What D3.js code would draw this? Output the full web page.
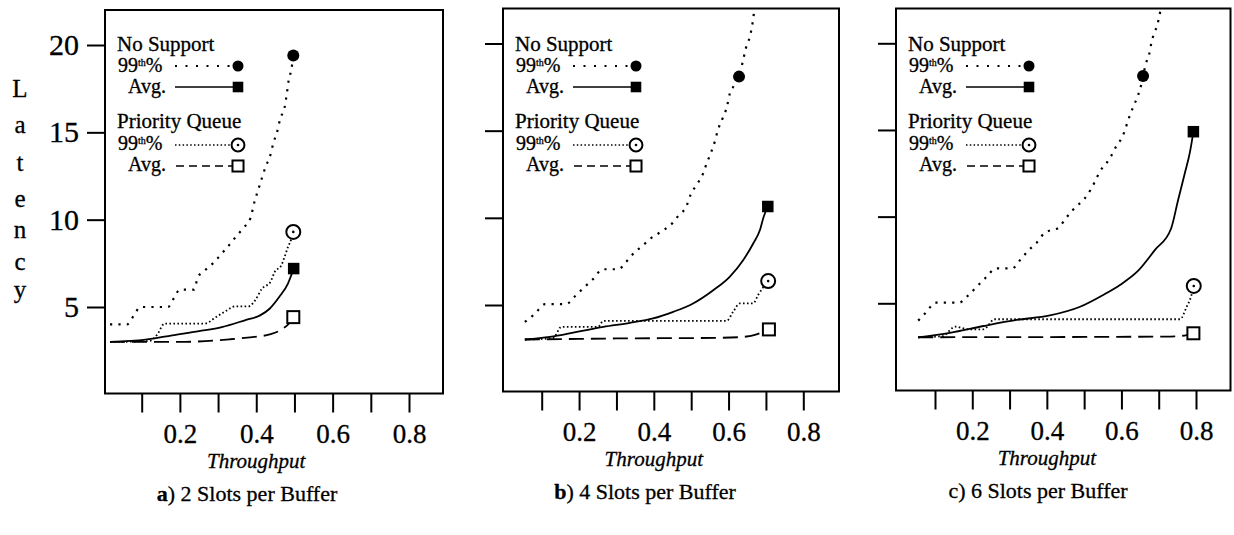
<!DOCTYPE html>
<html><head><meta charset="utf-8">
<script src="https://cdn.jsdelivr.net/npm/d3@7"></script>
<style>
html,body{margin:0;padding:0;background:#fff;}
svg{display:block;font-family:"Liberation Serif","Times New Roman",serif;}
svg text{fill:#000;stroke:#000;stroke-width:0.3px;}
</style></head><body>
<svg id="chart" width="1234" height="535"></svg>
<script>
// ---- data: [throughput, latency] ----
// a) 2 slots per buffer
const ns99A = [[0.017,4],[0.061,4],[0.083,4.65],[0.096,5],[0.169,5],[0.184,5.5],[0.2,6],[0.237,6],[0.247,6.7],[0.263,7.05],[0.289,7.55],[0.31,8.07],[0.33,8.57],[0.348,9.06],[0.367,9.54],[0.385,10.1],[0.395,11.0],[0.405,11.7],[0.415,12.4],[0.424,13.0],[0.437,13.7],[0.445,14.4],[0.455,15.05],[0.463,15.8],[0.474,16.4],[0.48,17.2],[0.485,18.0],[0.492,18.6],[0.497,19.4]];
const nsAvgA = [[0.017,3.0],[0.11,3.13],[0.18,3.38],[0.25,3.62],[0.31,3.85],[0.37,4.24],[0.41,4.52],[0.435,4.9],[0.46,5.57],[0.483,6.34],[0.498,7.2]];
const pq99A = [[0.017,3.0],[0.12,3.05],[0.14,3.4],[0.16,4.05],[0.265,4.05],[0.295,4.43],[0.32,4.77],[0.345,5.04],[0.38,5.04],[0.397,5.38],[0.415,6.05],[0.437,6.43],[0.448,7.0],[0.466,7.4],[0.474,7.86],[0.483,8.43],[0.492,8.9],[0.497,9.3]];
const pqAvgA = [[0.017,3.0],[0.2,3.0],[0.33,3.15],[0.39,3.28],[0.435,3.43],[0.47,3.76],[0.487,4.08],[0.497,4.42]];
const ns99MarkA = [0.497,19.4];

// b) 4 slots per buffer
const ns99B = [[0.055,4.03],[0.082,4.5],[0.109,5.05],[0.165,5.05],[0.189,5.5],[0.213,6.0],[0.238,6.5],[0.263,7.05],[0.305,7.05],[0.327,7.5],[0.35,8.05],[0.37,8.4],[0.39,8.8],[0.412,9.1],[0.43,9.35],[0.45,9.7],[0.465,10.1],[0.488,10.7],[0.498,11.3],[0.518,12.0],[0.532,12.55],[0.541,13.1],[0.554,13.8],[0.563,14.36],[0.572,15.07],[0.584,15.7],[0.596,16.4],[0.603,17.1],[0.615,17.6],[0.628,18.1],[0.639,19.05],[0.646,19.7],[0.657,20.4],[0.663,21.0],[0.672,22.5]];
const nsAvgB = [[0.055,3.02],[0.122,3.17],[0.194,3.46],[0.265,3.75],[0.336,3.98],[0.398,4.23],[0.452,4.61],[0.505,5.09],[0.559,5.85],[0.603,6.62],[0.639,7.57],[0.666,8.53],[0.684,9.3],[0.694,10.06],[0.705,10.65]];
const pq99B = [[0.055,3.02],[0.13,3.1],[0.153,3.75],[0.251,3.75],[0.265,4.09],[0.595,4.09],[0.612,4.6],[0.63,5.09],[0.666,5.09],[0.679,5.57],[0.697,6.14],[0.706,6.37]];
const pqAvgB = [[0.055,3.02],[0.3,3.08],[0.577,3.12],[0.639,3.17],[0.675,3.31],[0.697,3.5],[0.708,3.6]];
const ns99MarkB = [0.628,18.1];

// c) 6 slots per buffer
const ns99C = [[0.055,4.0],[0.078,4.52],[0.1,5.04],[0.165,5.04],[0.19,5.48],[0.214,6.0],[0.239,6.54],[0.263,7.02],[0.307,7.02],[0.33,7.54],[0.35,8.04],[0.373,8.5],[0.393,9.04],[0.413,9.23],[0.43,9.33],[0.449,9.85],[0.47,10.39],[0.485,10.7],[0.502,11.06],[0.517,11.54],[0.529,12.02],[0.542,12.6],[0.56,13.08],[0.574,13.56],[0.587,14.1],[0.603,14.62],[0.614,15.29],[0.623,15.87],[0.634,16.45],[0.645,17.02],[0.654,17.7],[0.658,18.12],[0.666,18.85],[0.675,19.43],[0.681,20.1],[0.69,20.67],[0.699,21.3],[0.705,21.93],[0.712,22.6]];
const nsAvgC = [[0.055,3.04],[0.14,3.3],[0.23,3.69],[0.319,4.04],[0.408,4.3],[0.489,4.8],[0.551,5.48],[0.596,6.06],[0.645,6.88],[0.69,8.08],[0.733,9.3],[0.752,10.96],[0.77,12.5],[0.784,13.75],[0.793,14.9]];
const pq99C = [[0.055,3.04],[0.12,3.1],[0.154,3.65],[0.19,3.5],[0.23,3.5],[0.26,4.08],[0.757,4.08],[0.775,4.8],[0.788,5.48],[0.794,6.0]];
const pqAvgC = [[0.055,3.04],[0.73,3.08],[0.775,3.17],[0.793,3.27]];
const ns99MarkC = [0.658,18.12];

// ---- labels and ticks ----
const throughputTicks = [0.1,0.2,0.3,0.4,0.5,0.6,0.7,0.8];
const latencyTicks = [5,10,15,20];
const captionLetters = ["a","b","c"];
const captionTexts = [" 2 Slots per Buffer"," 4 Slots per Buffer"," 6 Slots per Buffer"];
const captionBold = [true,true,false];
const xTitle = "Throughput";
const yTitle = "Latency";
const legendGroups = ["No Support","Priority Queue"];
const legendRows = ["99th%","Avg.","99th%","Avg."];

const series = [
  {ns99:ns99A, nsAvg:nsAvgA, pq99:pq99A, pqAvg:pqAvgA, mark:ns99MarkA},
  {ns99:ns99B, nsAvg:nsAvgB, pq99:pq99B, pqAvg:pqAvgB, mark:ns99MarkB},
  {ns99:ns99C, nsAvg:nsAvgC, pq99:pq99C, pqAvg:pqAvgC, mark:ns99MarkC}
];

// ---- layout of the three panels (pixels) ----
const panels = [
  {left:105, right:443,   top:10,  bottom:393.5, x1:141.7, x8:409,   y5:307,   y20:45},
  {left:503, right:839,   top:8.5, bottom:391.5, x1:541.7, x8:803.3, y5:305,   y20:43.5},
  {left:896, right:1230.5,top:8.5, bottom:390.5, x1:935,   x8:1196,  y5:303.3, y20:43.3}
];

const svg = d3.select("#chart");
const defs = svg.append("defs");

const STYLE = {
  ns99:  {dash:"2.2,6.2", width:2.2},
  nsAvg: {dash:null,      width:1.8},
  pq99:  {dash:"1.6,2.4", width:1.8},
  pqAvg: {dash:"15,7",    width:1.8}
};

function drawMarker(g, kind, cx, cy, scale) {
  const s = scale || 1;
  if (kind === "ns99") {
    g.append("circle").attr("cx",cx).attr("cy",cy).attr("r",6*s).attr("fill","#000");
  } else if (kind === "nsAvg") {
    const w = 11.5*s;
    g.append("rect").attr("x",cx-w/2).attr("y",cy-w/2).attr("width",w).attr("height",w).attr("fill","#000");
  } else if (kind === "pq99") {
    g.append("circle").attr("cx",cx).attr("cy",cy).attr("r",7*s).attr("fill","#fff")
      .attr("stroke","#000").attr("stroke-width",2);
    g.append("circle").attr("cx",cx).attr("cy",cy).attr("r",1.3).attr("fill","#000");
  } else {
    const w = 12*s;
    g.append("rect").attr("x",cx-w/2).attr("y",cy-w/2).attr("width",w).attr("height",w).attr("fill","#fff")
      .attr("stroke","#000").attr("stroke-width",2);
  }
}

function rowLabel(g, text, x, yb) {
  const t = g.append("text").attr("x",x).attr("y",yb).attr("font-size",20);
  const m = text.match(/^(\d+)(th)(%)$/);
  if (m) {
    t.append("tspan").text(m[1]);
    t.append("tspan").attr("font-size",10).attr("dy",-6).text(m[2]);
    t.append("tspan").attr("dy",6).text(m[3]);
  } else {
    t.text(text);
  }
}

panels.forEach((p, i) => {
  const x = d3.scaleLinear().domain([0.1,0.8]).range([p.x1,p.x8]);
  const y = d3.scaleLinear().domain([5,20]).range([p.y5,p.y20]);
  const d = series[i];
  const g = svg.append("g");

  // clip region = plot frame
  const clipId = "plotclip" + i;
  defs.append("clipPath").attr("id",clipId).append("rect")
    .attr("x",p.left).attr("y",p.top).attr("width",p.right-p.left).attr("height",p.bottom-p.top);

  // x axis
  const xAxis = d3.axisBottom(x).tickValues(throughputTicks).tickSize(19).tickPadding(11)
    .tickFormat(v => (Math.round(v*10) % 2 === 0) ? d3.format(".1f")(v) : "");
  const gx = g.append("g").attr("transform",`translate(0,${p.bottom})`).call(xAxis);
  gx.select(".domain").remove();
  gx.selectAll("line").attr("stroke","#000").attr("stroke-width",2);
  gx.selectAll("text").attr("font-size",27);
  gx.attr("font-family",null);

  // y axis
  const yAxis = d3.axisLeft(y).tickValues(latencyTicks).tickSize(18).tickPadding(8)
    .tickFormat(v => i === 0 ? String(v) : "");
  const gy = g.append("g").attr("transform",`translate(${p.left},0)`).call(yAxis);
  gy.select(".domain").remove();
  gy.selectAll("line").attr("stroke","#000").attr("stroke-width",2);
  gy.selectAll("text").attr("font-size",30);
  gy.attr("font-family",null);

  // frame
  g.append("rect").attr("x",p.left).attr("y",p.top)
    .attr("width",p.right-p.left).attr("height",p.bottom-p.top)
    .attr("fill","none").attr("stroke","#000").attr("stroke-width",2);

  // series lines
  const line = d3.line().x(v => x(v[0])).y(v => y(v[1])).curve(d3.curveMonotoneX);
  const plot = g.append("g").attr("clip-path",`url(#${clipId})`);
  ["pqAvg","nsAvg","pq99","ns99"].forEach(k => {
    plot.append("path").datum(d[k]).attr("d",line).attr("fill","none")
      .attr("stroke","#000").attr("stroke-width",STYLE[k].width)
      .attr("stroke-dasharray",STYLE[k].dash);
  });

  // end markers
  const last = a => a[a.length-1];
  drawMarker(plot,"nsAvg",x(last(d.nsAvg)[0]),y(last(d.nsAvg)[1]));
  drawMarker(plot,"pqAvg",x(last(d.pqAvg)[0]),y(last(d.pqAvg)[1]));
  drawMarker(plot,"pq99",x(last(d.pq99)[0]),y(last(d.pq99)[1]));
  drawMarker(plot,"ns99",x(d.mark[0]),y(d.mark[1]));

  // legend
  const L = p.left;
  const lg = g.append("g");
  lg.append("text").attr("x",L+12).attr("y",51).attr("font-size",21).text(legendGroups[0]);
  lg.append("text").attr("x",L+12).attr("y",128).attr("font-size",21).text(legendGroups[1]);
  const rows = [
    {k:"ns99",  tx:L+13, yb:72,  ly:66,  x0:L+70, x1:L+128, dash:"2,8.5"},
    {k:"nsAvg", tx:L+23, yb:93,  ly:87,  x0:L+70, x1:L+130, dash:null},
    {k:"pq99",  tx:L+13, yb:150, ly:145, x0:L+70, x1:L+126, dash:"1.5,2.3"},
    {k:"pqAvg", tx:L+23, yb:171, ly:166, x0:L+71, x1:L+128, dash:"8,5"}
  ];
  rows.forEach((r, j) => {
    rowLabel(lg, legendRows[j], r.tx, r.yb);
    lg.append("line").attr("x1",r.x0).attr("x2",r.x1).attr("y1",r.ly).attr("y2",r.ly)
      .attr("stroke","#000").attr("stroke-width",r.k === "ns99" ? 2 : 1.6)
      .attr("stroke-dasharray",r.dash);
    drawMarker(lg, r.k, L+133, r.ly, 0.92);
  });

  // axis title
  g.append("text").attr("x",x(0.4)).attr("y",p.bottom+74).attr("text-anchor","middle")
    .attr("font-size",21).attr("font-style","italic").text(xTitle);

  // caption
  const cap = g.append("text").attr("x",p.left+142).attr("y",p.bottom+107)
    .attr("text-anchor","middle").attr("font-size",22);
  cap.append("tspan").attr("font-weight",captionBold[i] ? "bold" : null).text(captionLetters[i]);
  cap.append("tspan").text(")" + captionTexts[i]);
});

// vertical y-axis title, one letter per line
const titleBaselines = [97,133,171,207,238,270,298];
svg.append("g").selectAll("text").data(yTitle.split("")).join("text")
  .attr("x",20).attr("y",(c,k) => titleBaselines[k]).attr("text-anchor","middle")
  .attr("font-size",25).text(c => c);
</script>
</body></html>
